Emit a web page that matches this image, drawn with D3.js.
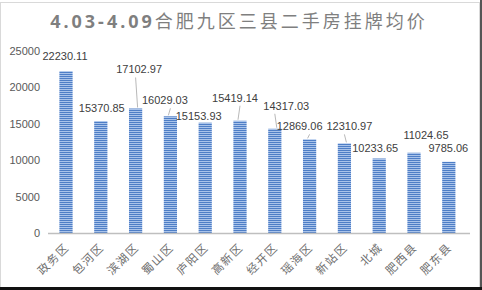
<!DOCTYPE html>
<html>
<head>
<meta charset="utf-8">
<script src="https://cdn.jsdelivr.net/npm/d3@7"></script>
<style>
  body { margin: 0; background: #fff; }
  svg { display: block; font-family: "Liberation Sans", Arial, sans-serif; }
</style>
</head>
<body>
<div id="chart"></div>
<script>
// data
var districts = ["政务区", "包河区", "滨湖区", "蜀山区", "庐阳区", "高新区", "经开区", "瑶海区", "新站区", "北城", "肥西县", "肥东县"];
var prices = [22230.11, 15370.85, 17102.97, 16029.03, 15153.93, 15419.14, 14317.03, 12869.06, 12310.97, 10233.65, 11024.65, 9785.06];
var yTicks = [0, 5000, 10000, 15000, 20000, 25000];
var titleNum = "4.03-4.09";
var titleText = "合肥九区三县二手房挂牌均价";

// label nudges (px) and which labels get a leader line
var labelDx = [-1, 1, 3.5, -5.5, -6.5, -5, 11.5, -10, 5, -4, 12, -0.5];
var labelDy = [-6, -4, -30, -7, 2, -14, -14, -4, -8, -1.5, -8.5, -5];
var leader = [false, false, true, true, false, true, true, true, true, false, false, false];

var W = 482, H = 290;
var svg = d3.select("#chart").append("svg").attr("width", W).attr("height", H);

// stripe pattern for the bars
var defs = svg.append("defs");
var pat = defs.append("pattern").attr("id", "stripes")
  .attr("patternUnits", "userSpaceOnUse").attr("width", 4).attr("height", 2);
pat.append("rect").attr("width", 4).attr("height", 1).attr("fill", "#4e7ec6");
pat.append("rect").attr("y", 1).attr("width", 4).attr("height", 1).attr("fill", "#a9c3ea");

// frame
svg.append("rect").attr("x", 0.5).attr("y", 2.5).attr("width", W - 3).attr("height", H - 5)
  .attr("fill", "#fff").attr("stroke", "#d9d9d9");
svg.append("rect").attr("x", W - 2).attr("y", 0).attr("width", 2).attr("height", H).attr("fill", "#555");
svg.append("rect").attr("x", 0).attr("y", H - 3).attr("width", W).attr("height", 3).attr("fill", "#111");

// title
var title = svg.append("text").attr("x", 239).attr("y", 28).attr("text-anchor", "middle")
  .attr("fill", "#7f7f7f").style("font-family", "'Noto Sans', 'Noto Sans CJK SC', sans-serif")
  .style("font-size", "18px").style("letter-spacing", "3px");
title.append("tspan").attr("font-weight", "bold").text(titleNum);
title.append("tspan").style("font-family", "'Noto Sans CJK SC', sans-serif").attr("font-weight", "normal").text(titleText);

var x = d3.scaleBand().domain(districts).range([48.6, 466.2]).paddingInner(0.62).paddingOuter(0.31);
var y = d3.scaleLinear().domain([0, 25000]).range([233, 51]);

// y axis labels
svg.append("g").selectAll("text").data(yTicks).enter().append("text")
  .attr("x", 40).attr("y", function(d){ return y(d) + 4; })
  .attr("text-anchor", "end").attr("fill", "#595959").style("font-size", "11px")
  .text(function(d){ return d; });

// bars
svg.append("g").selectAll("rect").data(prices).enter().append("rect")
  .attr("x", function(d, i){ return x(districts[i]); })
  .attr("y", function(d){ return y(d); })
  .attr("width", x.bandwidth())
  .attr("height", function(d){ return y(0) - y(d); })
  .attr("fill", "url(#stripes)");

// base line
svg.append("line").attr("x1", 48).attr("x2", 470).attr("y1", y(0) + 0.5).attr("y2", y(0) + 0.5)
  .attr("stroke", "#bfbfbf").attr("stroke-width", 1.5);

// value labels + leader lines
var cx = function(i){ return x(districts[i]) + x.bandwidth() / 2; };
var lg = svg.append("g");
prices.forEach(function(v, i){
  var lx = cx(i) + labelDx[i], ly = y(v) - 5 + labelDy[i];
  if (leader[i]) {
    var off = Math.max(-16, Math.min(16, cx(i) - lx));
    lg.append("line").attr("x1", lx + off).attr("y1", ly + 4)
      .attr("x2", cx(i) + (off > 0 ? -2 : (off < 0 ? 2 : 0))).attr("y2", y(v) - 1)
      .attr("stroke", "#a6a6a6").attr("stroke-width", 0.8);
  }
  lg.append("text").attr("x", lx).attr("y", ly).attr("text-anchor", "middle")
    .attr("fill", "#404040").style("font-size", "11px").text(d3.format(".2f")(v));
});

// category labels, rotated
svg.append("g").selectAll("text").data(districts).enter().append("text")
  .attr("transform", function(d){ return "translate(" + (x(d) + x.bandwidth() / 2 + 4) + "," + 248 + ") rotate(-45)"; })
  .attr("text-anchor", "end").attr("fill", "#6f6f6f")
  .style("font-family", "'Noto Sans CJK SC', sans-serif").style("font-size", "11.5px").style("letter-spacing", "1.5px")
  .text(function(d){ return d; });
</script>
</body>
</html>
